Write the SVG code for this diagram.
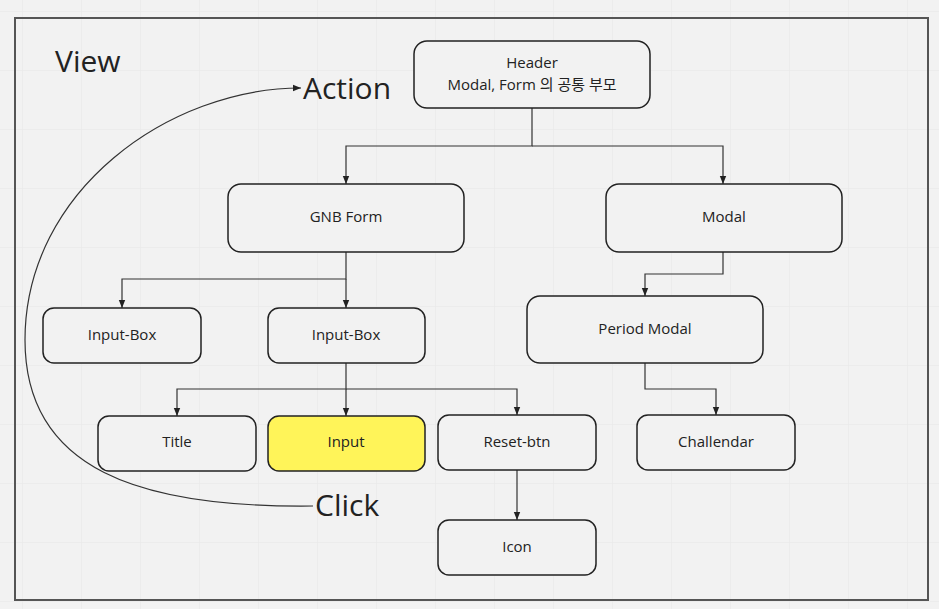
<svg xmlns="http://www.w3.org/2000/svg" width="939" height="609" viewBox="0 0 939 609">
<defs>
<pattern id="grid" x="22" y="11" width="59" height="59" patternUnits="userSpaceOnUse">
<path d="M0 0H59M0 0V59" fill="none" stroke="#e6e6e6" stroke-width="1"/>
</pattern>
<marker id="arr" viewBox="0 0 10 10" refX="10" refY="5" markerWidth="8" markerHeight="8" markerUnits="userSpaceOnUse" orient="auto">
<path d="M0 1L10 5L0 9z" fill="#222"/>
</marker>
</defs>
<style>
.n{fill:#f2f2f2;stroke:#222;stroke-width:1.5}
.t{font-family:"Open Sans","Noto Sans CJK KR",sans-serif;font-size:15px;fill:#222;text-anchor:middle}
.big{font-family:"Open Sans",sans-serif;font-size:30px;fill:#222}
.c{fill:none;stroke:#333;stroke-width:1.2;marker-end:url(#arr)}
</style>
<rect width="939" height="609" fill="#f2f2f2"/>
<rect width="939" height="609" fill="url(#grid)"/>
<rect x="15" y="18" width="913" height="582" fill="none" stroke="#555" stroke-width="2"/>
<text class="big" x="55" y="72">View</text>
<text class="big" x="303" y="99">Action</text>
<text class="big" x="315" y="516">Click</text>
<g id="connectors">
<path class="c" d="M532 108V146H346V184"/>
<path class="c" d="M532 146H723V184"/>
<path class="c" d="M346 252V279H122V308"/>
<path class="c" d="M346 279V308"/>
<path class="c" d="M723 252V274H645V296"/>
<path class="c" d="M346 363V389H177V416"/>
<path class="c" d="M346 389V416"/>
<path class="c" d="M346 389H517V415"/>
<path class="c" d="M645 363V389H716V415"/>
<path class="c" d="M517 470V520"/>
<path class="c" d="M313 506C140 508 25 470 25 340C25 190 170 88 301 88" stroke-width="1"/>
</g>
<g id="header"><rect class="n" x="414" y="41" width="236" height="67" rx="13"/><text class="t" x="532" y="68">Header</text><text class="t" x="532" y="90">Modal, Form 의 공통 부모</text></g>
<g id="gnb"><rect class="n" x="228" y="184" width="236" height="68" rx="13"/><text class="t" x="346" y="222">GNB Form</text></g>
<g id="modal"><rect class="n" x="606" y="184" width="236" height="68" rx="13"/><text class="t" x="724" y="222">Modal</text></g>
<g id="period"><rect class="n" x="527" y="296" width="236" height="67" rx="13"/><text class="t" x="645" y="334">Period Modal</text></g>
<g id="inputbox1"><rect class="n" x="43" y="308" width="158" height="55" rx="11"/><text class="t" x="122" y="340">Input-Box</text></g>
<g id="inputbox2"><rect class="n" x="268" y="308" width="157" height="55" rx="11"/><text class="t" x="346" y="340">Input-Box</text></g>
<g id="title"><rect class="n" x="98" y="416" width="158" height="55" rx="11"/><text class="t" x="177" y="447">Title</text></g>
<g id="input"><rect class="n" x="268" y="416" width="157" height="55" rx="11" style="fill:#fff459"/><text class="t" x="346" y="447">Input</text></g>
<g id="reset"><rect class="n" x="438" y="415" width="158" height="55" rx="11"/><text class="t" x="517" y="447">Reset-btn</text></g>
<g id="challendar"><rect class="n" x="637" y="415" width="158" height="55" rx="11"/><text class="t" x="716" y="447">Challendar</text></g>
<g id="icon"><rect class="n" x="438" y="520" width="158" height="55" rx="11"/><text class="t" x="517" y="552">Icon</text></g>
</svg>
